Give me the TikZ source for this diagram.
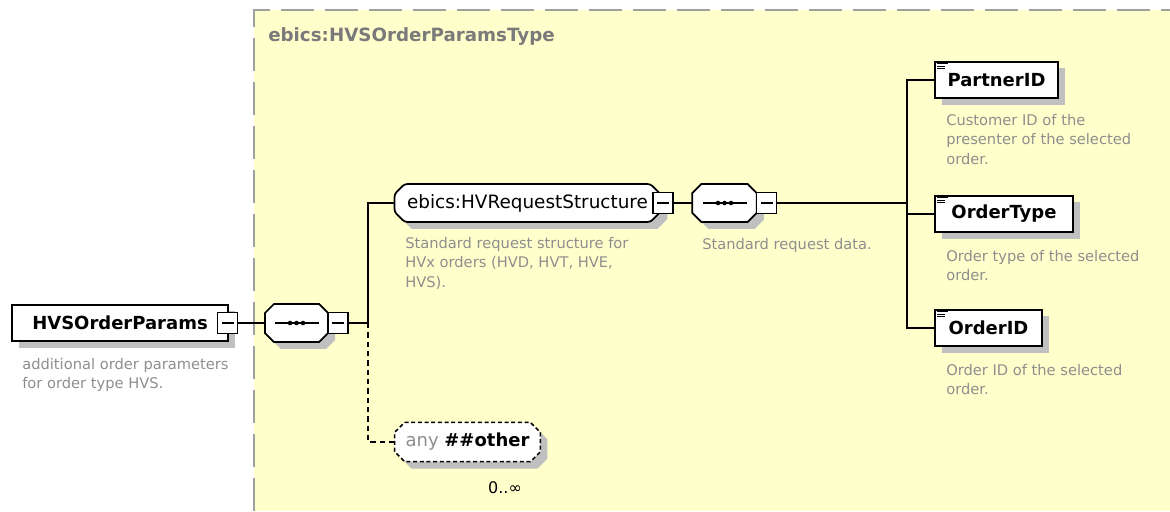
\documentclass[tikz,border=0pt]{standalone}
\usepackage{fontspec}
\setmainfont{DejaVu Sans}
\usetikzlibrary{calc,shadows}
\definecolor{BoxYellow}{HTML}{FFFFCC}
\definecolor{FrameGray}{HTML}{A0A0A0}
\definecolor{TitleGray}{HTML}{7A7A7A}
\definecolor{NoteGray}{HTML}{8E8E8E}
\definecolor{ShadowGray}{HTML}{C0C0C0}
\pgfdeclarelayer{bg}
\pgfdeclarelayer{mid}
\pgfsetlayers{bg,mid,main}
% octagon round a node: #1 node, #2 chamfer, #3/#4 offset
\newcommand{\octpath}[4]{($(#1.north west)+(#2+#3,#4)$) -- ($(#1.north east)+(-#2+#3,#4)$)
  -- ($(#1.north east)+(#3,#2+#4)$) -- ($(#1.south east)+(#3,-#2+#4)$)
  -- ($(#1.south east)+(-#2+#3,#4)$) -- ($(#1.south west)+(#2+#3,#4)$)
  -- ($(#1.south west)+(#3,-#2+#4)$) -- ($(#1.north west)+(#3,#2+#4)$) -- cycle}
\newcommand{\compbox}[3][]{%
  \begin{pgfonlayer}{mid}
    \fill[ShadowGray] \octpath{#2}{#3}{7}{7};
    \filldraw[fill=white,line width=1.3pt,#1] \octpath{#2}{#3}{0}{0};
  \end{pgfonlayer}}
\newcommand{\seqdots}[1]{%
  \draw[line width=1pt] ($(#1.center)+(-22,0)$) -- ($(#1.center)+(22,0)$);
  \foreach \dx in {-6.5,0,6.5} \fill ($(#1.center)+(\dx,0)$) circle (1.7pt);}
\newcommand{\elemicon}[1]{%
  \draw[line width=0.8pt] ($(#1.north west)+(3,3)$) -- ++(11,0);
  \foreach \dy in {5.5,8} \draw[line width=0.8pt] ($(#1.north west)+(3,\dy)$) -- ++(8,0);}

\begin{document}
\begin{tikzpicture}[x=0.75pt,y=-0.75pt,
  conn/.style={line width=1.1pt},
  shadowed/.style={drop shadow={shadow xshift=5pt,shadow yshift=-5pt,fill=ShadowGray,opacity=1}},
  elem/.style={draw,line width=1.3pt,fill=white,shadowed,inner sep=0pt,minimum height=27.5pt,font=\fontsize{13.5}{16}\selectfont\bfseries},
  cplx/.style={rectangle,inner sep=0pt,minimum height=28pt},
  minus/.style={draw,line width=1pt,fill=white,inner sep=0pt,minimum width=15pt,minimum height=15.5pt,
    path picture={\draw[line width=1pt] ([xshift=3pt]path picture bounding box.west) -- ([xshift=-3pt]path picture bounding box.east);}},
  note/.style={anchor=north west,inner sep=0pt,align=left,text=NoteGray,font=\fontsize{11}{14.5}\selectfont}]
  \useasboundingbox (0,0) rectangle (1170,511);
  % type container
  \begin{pgfonlayer}{bg}
    \fill[BoxYellow] (254,10) rectangle (1170,511);
    \draw[FrameGray,line width=1.5pt,dash pattern=on 25pt off 8pt] (254,511) |- (1170,10);
  \end{pgfonlayer}
  \node[anchor=west,inner sep=0pt,text=TitleGray,font=\fontsize{13.7}{16}\selectfont\bfseries] (typeName) at (268,37) {ebics:HVSOrderParamsType};

  % root element
  \node[elem,minimum width=162pt] (params) at (120,323) {HVSOrderParams\hspace{6pt}};
  \node[note] (paramsNote) at (22,358) {additional order parameters\\for order type HVS.};

  % outer sequence
  \node[cplx,minimum width=47pt] (seqA) at (296.5,323) {};
  \compbox{seqA}{9}
  \seqdots{seqA}

  % request structure
  \node[cplx,minimum width=199pt,font=\fontsize{13.8}{16}\selectfont] (hvReq) at (527.5,203) {ebics:HVRequestStructure};
  \compbox[rounded corners=2]{hvReq}{10}
  \node[note] (hvReqNote) at (405,237) {Standard request structure for\\HVx orders (HVD, HVT, HVE,\\HVS).};

  % inner sequence
  \node[cplx,minimum width=48pt] (seqB) at (724.5,203) {};
  \compbox{seqB}{9}
  \seqdots{seqB}
  \node[note] (seqBNote) at (702,238) {Standard request data.};

  % wildcard
  \node[cplx,minimum width=109pt,minimum height=29pt,font=\fontsize{13.5}{16}\selectfont] (anyOther) at (467.5,442) {\textcolor{NoteGray}{any} \textbf{\#\#other}};
  \compbox[line width=1.1pt,dash pattern=on 3pt off 2pt]{anyOther}{10}
  \node[inner sep=0pt,font=\fontsize{12}{14}\selectfont] (anyCount) at (505,488) {0..∞};

  % leaf elements
  \node[elem,minimum width=92pt] (partnerId) at (996.5,80) {PartnerID};
  \node[note] (partnerNote) at (946,114) {Customer ID of the\\presenter of the selected\\order.};
  \node[elem,minimum width=103.5pt] (orderType) at (1004,214) {OrderType};
  \node[note] (orderTypeNote) at (946,250) {Order type of the selected\\order.};
  \node[elem,minimum width=80pt] (orderId) at (988.5,328) {OrderID};
  \node[note] (orderIdNote) at (946,364) {Order ID of the selected\\order.};
  \elemicon{partnerId}
  \elemicon{orderType}
  \elemicon{orderId}

  % collapse buttons
  \node[minus] (paramsMinus) at (227.5,323) {};
  \node[minus] (seqAMinus) at (338,323) {};
  \node[minus] (hvReqMinus) at (663,203) {};
  \node[minus] (seqBMinus) at (766.5,203) {};

  % connectors
  \coordinate (forkA) at (368,323);
  \coordinate (forkB) at (907,203);
  \draw[conn] (paramsMinus.east) -- (seqA.west);
  \draw[conn] (seqAMinus.east) -- (forkA);
  \draw[conn] (forkA) |- (hvReq.west);
  \draw[conn,dash pattern=on 4pt off 3pt] (forkA) |- (anyOther.west);
  \draw[conn] (hvReqMinus.east) -- (seqB.west);
  \draw[conn] (seqBMinus.east) -- (forkB);
  \draw[conn] (forkB) |- (partnerId.west);
  \draw[conn] (forkB) |- (orderType.west);
  \draw[conn] (forkB) |- (orderId.west);
\end{tikzpicture}
\end{document}
